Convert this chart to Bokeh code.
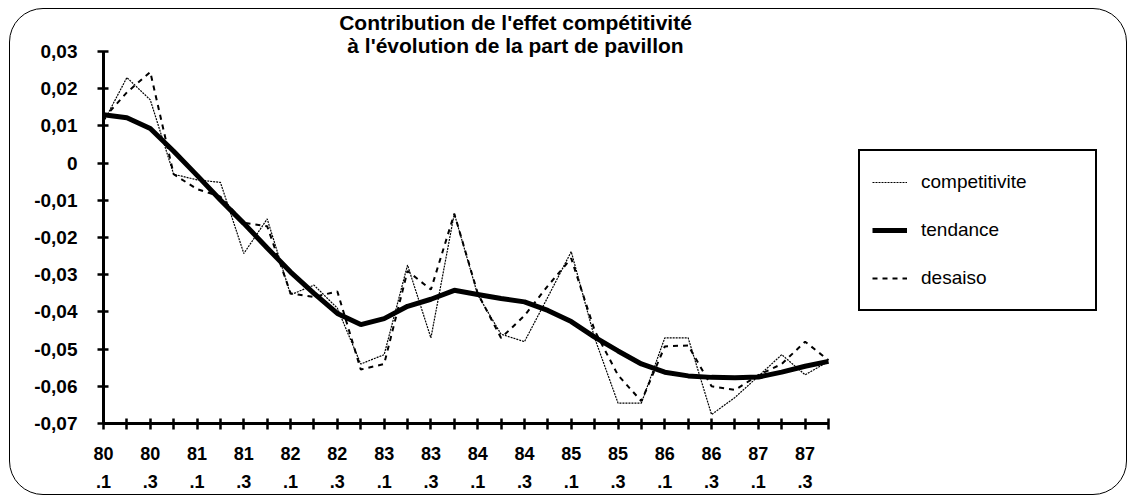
from bokeh.plotting import figure
from bokeh.models import Range1d, FixedTicker, CustomJSTickFormatter, Legend, LegendItem, Label
from bokeh.embed import file_html
from bokeh.resources import INLINE

# ---- data -------------------------------------------------------------
quarters = ["80.1", "80.2", "80.3", "80.4", "81.1", "81.2", "81.3", "81.4",
            "82.1", "82.2", "82.3", "82.4", "83.1", "83.2", "83.3", "83.4",
            "84.1", "84.2", "84.3", "84.4", "85.1", "85.2", "85.3", "85.4",
            "86.1", "86.2", "86.3", "86.4", "87.1", "87.2", "87.3", "87.4"]

competitivite = [0.011, 0.023, 0.017, -0.003, -0.0045, -0.0052, -0.0243, -0.015,
                 -0.0354, -0.0328, -0.039, -0.054, -0.0515, -0.0274, -0.047, -0.0136,
                 -0.0354, -0.046, -0.048, -0.036, -0.0238, -0.047, -0.0645, -0.0645,
                 -0.047, -0.047, -0.0676, -0.063, -0.0573, -0.0515, -0.0569, -0.0533]

tendance = [0.0130, 0.0122, 0.0093, 0.0032, -0.0033, -0.0099, -0.0162, -0.0228,
            -0.0293, -0.0350, -0.0404, -0.0434, -0.0418, -0.0385, -0.0366, -0.0342,
            -0.0353, -0.0364, -0.0373, -0.0396, -0.0426, -0.0468, -0.0505, -0.0540,
            -0.0562, -0.0572, -0.0576, -0.0577, -0.0575, -0.0562, -0.0546, -0.0533]

desaiso = [0.012, 0.019, 0.0245, -0.003, -0.007, -0.009, -0.016, -0.017,
           -0.035, -0.036, -0.0345, -0.0555, -0.054, -0.029, -0.034, -0.0136,
           -0.035, -0.047, -0.041, -0.033, -0.0256, -0.045, -0.057, -0.064,
           -0.0493, -0.049, -0.060, -0.061, -0.057, -0.054, -0.048, -0.053]

y_ticks = [-0.07, -0.06, -0.05, -0.04, -0.03, -0.02, -0.01, 0.0, 0.01, 0.02, 0.03]

title_lines = ["Contribution de l'effet compétitivité",
               "à l'évolution de la part de pavillon"]

# ---- derived ----------------------------------------------------------
xs = list(range(len(quarters)))
last = len(quarters) - 1
labelled = xs[::2]
unlabelled = xs[1::2]
x_tick_labels = {i: quarters[i].replace(".", "\n.") for i in labelled}
y_lo, y_hi = y_ticks[0], y_ticks[-1]

FONT = "Liberation Sans"

# geometry (pixels): the axes occupy 725 x 372 px; the frame is larger
# (axis bounds limit the drawn axes) so title and legend sit inside it.
AX_W, AX_H = 725, 372
FRAME_W, FRAME_H = 1008, 414
px_x = AX_W / last
px_y = AX_H / (y_hi - y_lo)
x_max = FRAME_W / px_x
y_max = y_lo + FRAME_H / px_y

p = figure(frame_width=FRAME_W, frame_height=FRAME_H,
           output_backend="svg", toolbar_location=None,
           x_range=Range1d(0, x_max), y_range=Range1d(y_lo, y_max),
           min_border_left=93, min_border_right=15, min_border_top=0,
           min_border_bottom=68)
p.margin = (8, 0, 0, 9)
p.styles = {"border": "1.5px solid black", "border-radius": "34px"}
p.background_fill_color = None
p.border_fill_color = None
p.outline_line_color = None
p.xgrid.visible = False
p.ygrid.visible = False

# axes
for ax in (p.xaxis[0], p.yaxis[0]):
    ax.axis_line_width = 3
    ax.axis_line_color = "black"
    ax.major_tick_line_width = 2.5
    ax.minor_tick_line_width = 2.5
    ax.major_tick_in = 5
    ax.major_tick_out = 6
    ax.major_label_text_font = FONT
    ax.major_label_text_font_style = "bold"
    ax.major_label_text_color = "black"

p.yaxis.bounds = (y_lo, y_hi)
p.yaxis.ticker = FixedTicker(ticks=y_ticks, minor_ticks=[])
p.yaxis.formatter = CustomJSTickFormatter(code="""
    if (Math.abs(tick) < 1e-9) { return "0"; }
    return tick.toFixed(2).replace(".", ",");
""")
p.yaxis.major_label_text_font_size = "19px"
p.yaxis.major_label_standoff = 20

p.xaxis.bounds = (0, last)
p.xaxis.ticker = FixedTicker(ticks=labelled, minor_ticks=unlabelled)
p.xaxis.major_label_overrides = x_tick_labels
p.xaxis.minor_tick_in = 5
p.xaxis.minor_tick_out = 6
p.xaxis.major_label_text_font_size = "18px"
p.xaxis.major_label_text_line_height = 1.4
p.xaxis.major_label_standoff = 14

# lines
r_comp = p.line(xs, competitivite, line_color="black", line_width=1.2, line_dash="2 1")
r_tend = p.line(xs, tendance, line_color="black", line_width=5)
r_des = p.line(xs, desaiso, line_color="black", line_width=2, line_dash="5 5")

# title: two centred lines above the axes (inside the frame)
title_x = 412 / px_x
for txt, dy_px in zip(title_lines, [29, 6]):
    p.add_layout(Label(x=title_x, y=y_hi + dy_px / px_y, text=txt,
                       text_align="center", text_baseline="middle",
                       text_font=FONT, text_font_style="bold",
                       text_font_size="21px", text_color="black"))

legend = Legend(items=[LegendItem(label="competitivite", renderers=[r_comp]),
                       LegendItem(label="tendance", renderers=[r_tend]),
                       LegendItem(label="desaiso", renderers=[r_des])],
                location=(755, 112))
legend.label_text_font = FONT
legend.label_text_font_size = "19px"
legend.label_text_color = "black"
legend.glyph_width = 35
legend.glyph_height = 38
legend.label_height = 38
legend.label_width = 162
legend.label_standoff = 14
legend.spacing = 10
legend.padding = 12
legend.border_line_color = "black"
legend.border_line_alpha = 1
legend.border_line_width = 2.5
legend.background_fill_color = "white"
legend.background_fill_alpha = 1
p.add_layout(legend, "center")

open("out.html", "w").write(file_html(p, INLINE))
